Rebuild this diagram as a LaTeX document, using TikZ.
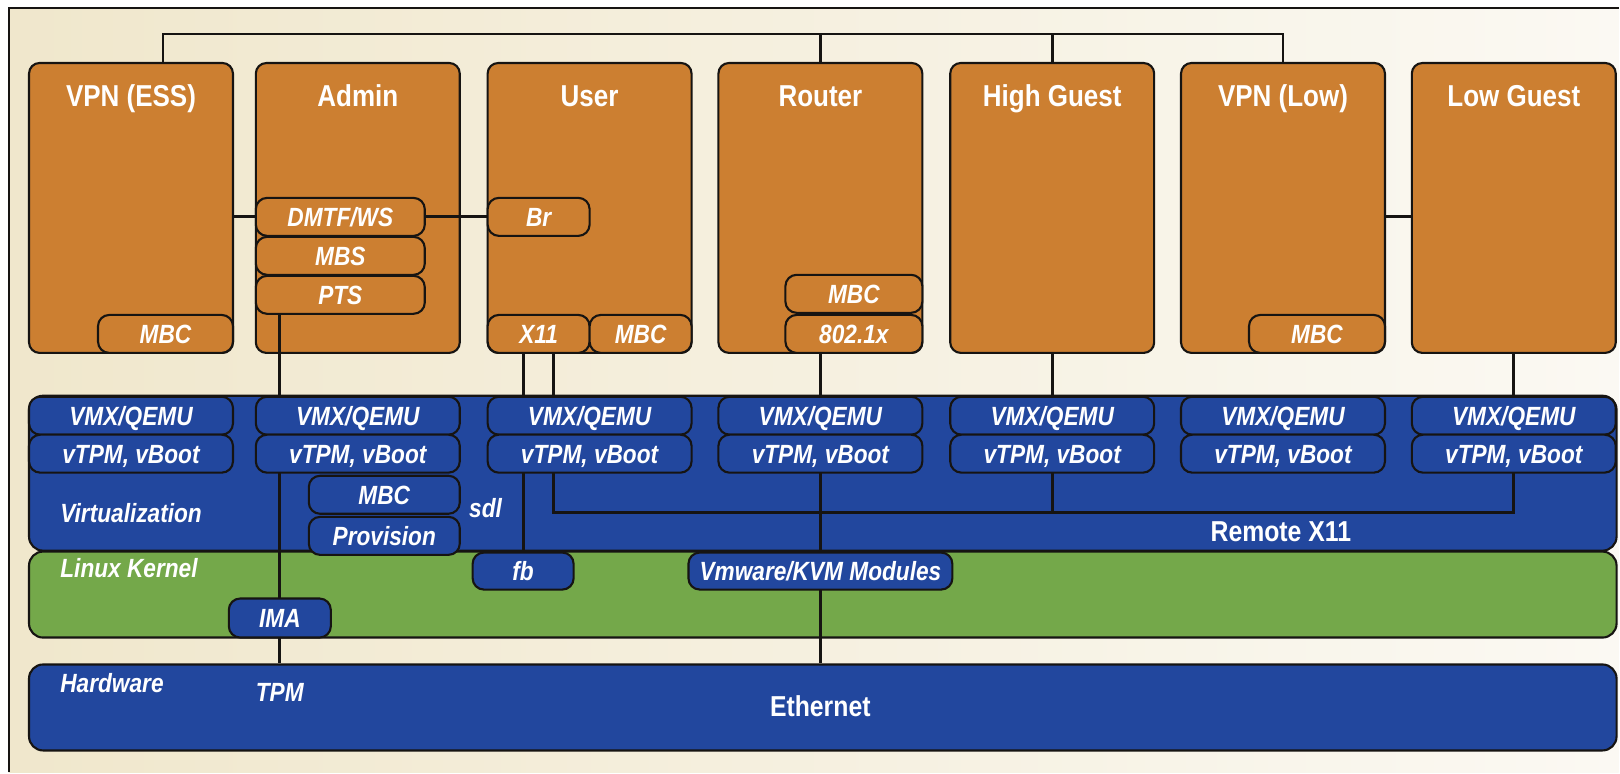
\documentclass[tikz,border=0pt]{standalone}
\usepackage{fontspec}
\setmainfont{Liberation Sans}[FakeStretch=0.86]
\usetikzlibrary{calc}
\definecolor{orng}{RGB}{204,127,49}
\definecolor{bleu}{RGB}{34,71,158}
\definecolor{vert}{RGB}{116,168,74}
\definecolor{trait}{RGB}{22,20,18}
\definecolor{fondg}{RGB}{240,231,204}
\definecolor{fondd}{RGB}{251,249,243}
\pgfdeclarelayer{fond}
\pgfdeclarelayer{fils}
\pgfsetlayers{fond,fils,main}

\begin{document}
\begin{tikzpicture}[x=0.01cm,y=-0.01cm]
    %
    % Définitions
    %
    \pgfmathsetmacro{\xess}{28};%
    \pgfmathsetmacro{\xadm}{255};%
    \pgfmathsetmacro{\xusr}{487};%
    \pgfmathsetmacro{\xrtr}{718};%
    \pgfmathsetmacro{\xhg}{950};%
    \pgfmathsetmacro{\xvl}{1181};%
    \pgfmathsetmacro{\xlg}{1412};%
    \pgfmathsetmacro{\yh}{62};%
    \pgfmathsetmacro{\yvmx}{396};%
    \pgfmathsetmacro{\yvt}{434};%

    %
    % Styles
    %
    \tikzset{%
        vm/.style={draw=trait, fill=orng, line width=0.6pt, rounded corners=3pt,
            minimum width=2.04cm, minimum height=2.9cm, inner sep=0pt, anchor=north west},%
        sub/.style={draw=trait, fill=orng, line width=0.6pt, rounded corners=3.2pt,
            minimum height=0.38cm, inner sep=0pt, anchor=north west, text=white,
            font=\fontsize{7.5}{9}\selectfont\bfseries\itshape,
            text height=5.4pt, text depth=0pt},%
        bsub/.style={sub, fill=bleu},%
        bande/.style={draw=trait, line width=0.6pt, rounded corners=4pt, inner sep=0pt,
            minimum width=15.88cm, anchor=north west},%
        titre/.style={text=white, font=\fontsize{8.6}{10}\selectfont\bfseries, anchor=base},%
        etiq/.style={text=white, font=\fontsize{7.5}{9}\selectfont\bfseries\itshape, anchor=base west},%
        fil/.style={draw=trait, line width=0.8pt}%
    };%

    %
    % Fond et couches
    %
    \begin{pgfonlayer}{fond}
    \fill[left color=fondg, right color=fondd] (9,8) rectangle (1620,773);%
    \draw[trait, line width=0.8pt] (9,773) -- (9,8) -- (1620,8);%

    \node[bande, fill=bleu, minimum height=1.55cm] (virt) at (28,395) {};%
    \node[bande, fill=vert, minimum height=0.86cm] (kern) at (28,551) {};%
    \node[bande, fill=bleu, minimum height=0.86cm] (hw) at (28,664) {};%

    % Machines virtuelles
    \node[vm] (vpness) at (\xess,\yh) {};%
    \node[vm] (admin) at (\xadm,\yh) {};%
    \node[vm] (user) at (\xusr,\yh) {};%
    \node[vm] (router) at (\xrtr,\yh) {};%
    \node[vm] (highg) at (\xhg,\yh) {};%
    \node[vm] (vpnlow) at (\xvl,\yh) {};%
    \node[vm] (lowg) at (\xlg,\yh) {};%

    \node[titre] (tvpness) at ($(vpness.north)+(0,45)$) {VPN (ESS)};%
    \node[titre] (tadmin) at ($(admin.north)+(0,45)$) {Admin};%
    \node[titre] (tuser) at ($(user.north)+(0,45)$) {User};%
    \node[titre] (trouter) at ($(router.north)+(0,45)$) {Router};%
    \node[titre] (thighg) at ($(highg.north)+(0,45)$) {High Guest};%
    \node[titre] (tvpnlow) at ($(vpnlow.north)+(0,45)$) {VPN (Low)};%
    \node[titre] (tlowg) at ($(lowg.north)+(0,45)$) {Low Guest};%

    % Services dans les VM
    \node[sub, anchor=south east, minimum width=1.35cm] (mbcess) at (vpness.south east) {MBC};%
    \node[sub, minimum width=1.69cm] (dmtf) at (\xadm,197) {DMTF/WS};%
    \node[sub, minimum width=1.69cm] (mbs) at (\xadm,236) {MBS};%
    \node[sub, minimum width=1.69cm] (pts) at (\xadm,275) {PTS};%
    \node[sub, minimum width=1.02cm] (br) at (\xusr,197) {Br};%
    \node[sub, anchor=south west, minimum width=1.02cm] (x11) at (user.south west) {X11};%
    \node[sub, anchor=south east, minimum width=1.02cm] (mbcusr) at (user.south east) {MBC};%
    \node[sub, anchor=south east, minimum width=1.37cm] (dotx) at (router.south east) {802.1x};%
    \node[sub, anchor=south east, minimum width=1.37cm] (mbcrtr) at (dotx.north east) {MBC};%
    \node[sub, anchor=south east, minimum width=1.36cm] (mbcvl) at (vpnlow.south east) {MBC};%
    \end{pgfonlayer}

    %
    % Virtualisation
    %
    \node[bsub, minimum width=2.04cm] (vmxess) at (\xess,\yvmx) {VMX/QEMU};%
    \node[bsub, minimum width=2.04cm] (vtess) at (\xess,\yvt) {vTPM, vBoot};%
    \node[bsub, minimum width=2.04cm] (vmxadm) at (\xadm,\yvmx) {VMX/QEMU};%
    \node[bsub, minimum width=2.04cm] (vtadm) at (\xadm,\yvt) {vTPM, vBoot};%
    \node[bsub, minimum width=2.04cm] (vmxusr) at (\xusr,\yvmx) {VMX/QEMU};%
    \node[bsub, minimum width=2.04cm] (vtusr) at (\xusr,\yvt) {vTPM, vBoot};%
    \node[bsub, minimum width=2.04cm] (vmxrtr) at (\xrtr,\yvmx) {VMX/QEMU};%
    \node[bsub, minimum width=2.04cm] (vtrtr) at (\xrtr,\yvt) {vTPM, vBoot};%
    \node[bsub, minimum width=2.04cm] (vmxhg) at (\xhg,\yvmx) {VMX/QEMU};%
    \node[bsub, minimum width=2.04cm] (vthg) at (\xhg,\yvt) {vTPM, vBoot};%
    \node[bsub, minimum width=2.04cm] (vmxvl) at (\xvl,\yvmx) {VMX/QEMU};%
    \node[bsub, minimum width=2.04cm] (vtvl) at (\xvl,\yvt) {vTPM, vBoot};%
    \node[bsub, minimum width=2.04cm] (vmxlg) at (\xlg,\yvmx) {VMX/QEMU};%
    \node[bsub, minimum width=2.04cm] (vtlg) at (\xlg,\yvt) {vTPM, vBoot};%

    \node[bsub, anchor=north east, minimum width=1.51cm] (mbcadm) at ($(vtadm.south east)+(0,1)$) {MBC};%
    \node[bsub, anchor=north east, minimum width=1.51cm] (prov) at ($(mbcadm.south east)+(0,1)$) {Provision};%

    % Noyau
    \node[bsub, minimum width=1.01cm, minimum height=0.37cm] (fb) at (472,552) {fb};%
    \node[bsub, minimum width=2.64cm, minimum height=0.37cm] (kvm) at (688,552) {Vmware/KVM Modules};%
    \node[bsub, minimum width=1.02cm, minimum height=0.39cm] (ima) at (228,598) {IMA};%

    % Textes
    \node[etiq] (lvirt) at (48,523) {Virtualization};%
    \node[etiq] (lkern) at (48,578) {Linux Kernel};%
    \node[etiq] (lhw) at (48,693) {Hardware};%
    \node[etiq, anchor=base] (tpm) at (280,702) {TPM};%
    \node[etiq, anchor=base] (sdl) at (486,518) {sdl};%
    \node[titre, font=\fontsize{8.2}{10}\selectfont\bfseries] (rx) at (1282,542) {Remote X11};%
    \node[titre, font=\fontsize{8.2}{10}\selectfont\bfseries] (eth) at (821,717) {Ethernet};%

    %
    % Liaisons
    %
    \begin{pgfonlayer}{fils}
    \coordinate (bus) at (0,34);%
    \coordinate (rbus) at (0,513);%
    \draw[fil] ($(vpness.north)+(32,0)$) |- (bus -| vpnlow.north) -- (vpnlow.north);%
    \draw[fil] (router.north) -- (router.north |- bus);%
    \draw[fil] (highg.north) -- (highg.north |- bus);%

    \draw[fil] (vpness.east |- dmtf) -- (dmtf.west);%
    \draw[fil] (dmtf.east) -- (br.west);%
    \draw[fil] (vpnlow.east |- dmtf) -- (lowg.west |- dmtf);%

    \draw[fil] (pts.south -| ima) -- (hw.north -| ima);%
    \draw[fil] (x11.south -| fb) -- (fb.north);%
    \draw[fil] ($(x11.south)+(15,0)$) |- (rbus -| lowg.south) -- (lowg.south);%
    \draw[fil] (highg.south) -- (highg.south |- rbus);%
    \draw[fil] (router.south) -- (hw.north -| router.south);%
    \end{pgfonlayer}

    \useasboundingbox (0,0) rectangle (1620,773);%
\end{tikzpicture}
\end{document}
